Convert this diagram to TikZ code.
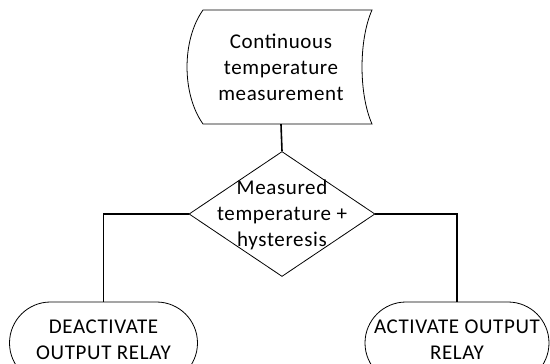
\documentclass[tikz,border=0pt]{standalone}
\usepackage{fontspec}
\setmainfont{Carlito}[LetterSpace=3]
\usepackage{tikz}
\usetikzlibrary{shapes.geometric,shapes.misc}

\begin{document}
\begin{tikzpicture}[x=1pt,y=-1pt,
    txt/.style={align=center,font=\fontsize{21}{26}\selectfont},
    decision/.style={draw,diamond,line width=0.8pt,inner sep=0pt,
        minimum width=186pt,minimum height=125pt},
    relay/.style={draw,rounded rectangle,line width=0.8pt,inner sep=0pt,
        minimum width=188pt,minimum height=82pt},
    link/.style={line width=1.6pt}]
    \useasboundingbox (0,0) rectangle (550,364);

    % stored data shape
    \node[txt,minimum width=170pt,minimum height=114pt,inner sep=0pt] (meas) at (281,67)
        {Continuous\\temperature\\measurement};
    \draw[line width=0.8pt] (203,10) -- (372,10)
        .. controls (358.7,40) and (358.7,94) .. (372,124)
        -- (203,124)
        .. controls (181.7,94) and (181.7,40) .. (203,10) -- cycle;

    \node[decision,label={[txt,yshift=-1pt]center:Measured\\temperature +\\hysteresis}] (cmp) at (282,214) {};

    \node[relay,label={[txt,yshift=3pt]center:DEACTIVATE\\OUTPUT RELAY}] (off) at (103.5,343) {};
    \node[relay,minimum width=184pt,label={[txt,yshift=3pt]center:ACTIVATE OUTPUT\\RELAY}] (on) at (457,343) {};

    \draw[link] (meas.south) -- (cmp.north);
    \draw[link] (cmp.west) -| (off.north);
    \draw[link] (cmp.east) -| (on.north);
\end{tikzpicture}
\end{document}
